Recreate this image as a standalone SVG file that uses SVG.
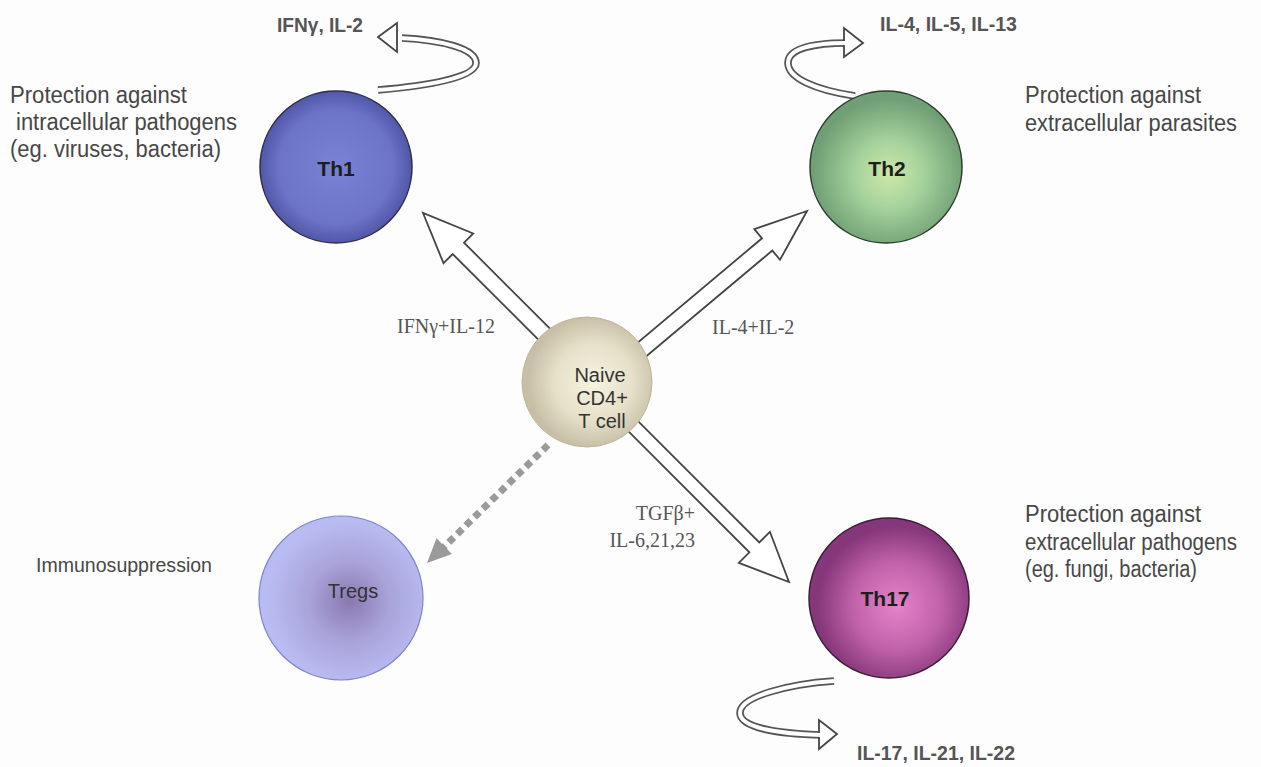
<svg xmlns="http://www.w3.org/2000/svg" width="1261" height="767" viewBox="0 0 1261 767">
  <defs>
    <radialGradient id="gTh1" cx="0.5" cy="0.5" r="0.5">
      <stop offset="0" stop-color="#7A82D4"/>
      <stop offset="0.75" stop-color="#6C74C8"/>
      <stop offset="1" stop-color="#5157A8"/>
    </radialGradient>
    <radialGradient id="gTh2" cx="0.52" cy="0.55" r="0.5">
      <stop offset="0" stop-color="#CDE8A8"/>
      <stop offset="0.45" stop-color="#A5D29C"/>
      <stop offset="1" stop-color="#6F9F74"/>
    </radialGradient>
    <radialGradient id="gNaive" cx="0.55" cy="0.5" r="0.5">
      <stop offset="0" stop-color="#F6F3DE"/>
      <stop offset="0.6" stop-color="#E6E0CA"/>
      <stop offset="1" stop-color="#C8C0A6"/>
    </radialGradient>
    <radialGradient id="gTregs" cx="0.55" cy="0.52" r="0.5">
      <stop offset="0" stop-color="#8A78B0"/>
      <stop offset="0.5" stop-color="#A9A4DA"/>
      <stop offset="1" stop-color="#B9BCF2"/>
    </radialGradient>
    <radialGradient id="gTh17" cx="0.55" cy="0.55" r="0.5">
      <stop offset="0" stop-color="#E683C9"/>
      <stop offset="0.55" stop-color="#C062AA"/>
      <stop offset="1" stop-color="#86367A"/>
    </radialGradient>
    <style>
      .sans { font-family: "Liberation Sans", Arial, sans-serif; }
      .serif { font-family: "Liberation Serif", "Times New Roman", serif; fill: #555; font-size: 20px; }
      .note { font-size: 23px; fill: #474747; }
      .cyt { font-size: 21px; font-weight: bold; fill: #555; }
      .cellB { font-size: 21px; font-weight: bold; fill: #1e1e1e; text-anchor: middle; }
      .cellN { font-size: 20px; fill: #333; text-anchor: middle; }
      .hollow { fill: #fff; stroke: #444; stroke-width: 1.8; stroke-linejoin: miter; }
      .bandOut { fill: none; stroke: #555; stroke-width: 7.5; }
      .bandIn { fill: none; stroke: #fff; stroke-width: 4; }
    </style>
  </defs>

  <rect width="1261" height="767" fill="#fdfdfd"/>

  <!-- connectors: differentiation arrows and cytokine loops -->
  <g id="connectors">
    <!-- naive -> Th1 -->
    <polygon class="hollow" transform="translate(423 213) rotate(225)" points="0,0 -50,-21 -50,-8 -215,-8 -215,8 -50,8 -50,21"/>
    <!-- naive -> Th2 -->
    <polygon class="hollow" transform="translate(807 211) rotate(-40)" points="0,0 -52,-20 -52,-8 -255,-8 -255,8 -52,8 -52,20"/>
    <!-- naive -> Th17 -->
    <polygon class="hollow" transform="translate(789 582) rotate(45)" points="0,0 -49,-22 -49,-7 -265,-7 -265,7 -49,7 -49,22"/>
    <!-- naive -> Tregs (dotted) -->
    <line x1="548" y1="445" x2="444" y2="547" stroke="#9a9a9a" stroke-width="7" stroke-dasharray="7 5"/>
    <polygon transform="translate(427 563) rotate(135.7)" points="0,0 -24,-11 -24,11" fill="#9a9a9a"/>

    <!-- Th1 loop: IFNγ, IL-2 -->
    <path class="bandOut" d="M 378 90 C 425 86, 476 78, 476 63 C 476 48, 440 40, 402 38"/>
    <polygon class="hollow" points="378,37 397,23 397,52"/>
    <path class="bandIn" d="M 378 90 C 425 86, 476 78, 476 63 C 476 48, 440 40, 400 38"/>

    <!-- Th2 loop: IL-4, IL-5, IL-13 -->
    <path class="bandOut" d="M 855 96 C 815 90, 788 78, 788 63 C 788 48, 815 43, 848 43"/>
    <polygon class="hollow" points="863,43 844,28 844,57"/>
    <path class="bandIn" d="M 855 96 C 815 90, 788 78, 788 63 C 788 48, 815 43, 846 43"/>

    <!-- Th17 loop: IL-17, IL-21, IL-22 -->
    <path class="bandOut" d="M 834 681 C 790 684, 740 696, 740 713 C 740 728, 780 734, 823 735"/>
    <polygon class="hollow" points="837,734 819,720 819,749"/>
    <path class="bandIn" d="M 834 681 C 790 684, 740 696, 740 713 C 740 728, 780 734, 821 735"/>
  </g>

  <!-- cells -->
  <g id="th1">
    <circle cx="336" cy="167" r="76" fill="url(#gTh1)" stroke="#2f2f45" stroke-width="1.5"/>
    <text class="sans cellB" x="336" y="176">Th1</text>
  </g>
  <g id="th2">
    <circle cx="886" cy="167" r="76" fill="url(#gTh2)" stroke="#2f3a30" stroke-width="1.5"/>
    <text class="sans cellB" x="887" y="176">Th2</text>
  </g>
  <g id="naive">
    <circle cx="587" cy="382" r="65" fill="url(#gNaive)" stroke="#bdb59a" stroke-width="1"/>
    <text class="sans cellN" x="600" y="382">Naive</text>
    <text class="sans cellN" x="602" y="405">CD4+</text>
    <text class="sans cellN" x="602" y="428">T cell</text>
  </g>
  <g id="tregs">
    <circle cx="341" cy="598" r="82" fill="url(#gTregs)" stroke="#7f84c8" stroke-width="1.2"/>
    <text class="sans cellN" x="353" y="598">Tregs</text>
  </g>
  <g id="th17">
    <circle cx="889" cy="598" r="80" fill="url(#gTh17)" stroke="#3a2035" stroke-width="1.5"/>
    <text class="sans cellB" x="885" y="606">Th17</text>
  </g>

  <!-- cytokine labels -->
  <g id="cytokines" class="sans">
    <text class="cyt" x="277" y="32" textLength="86" lengthAdjust="spacingAndGlyphs">IFNγ, IL-2</text>
    <text class="cyt" x="880" y="31" textLength="137" lengthAdjust="spacingAndGlyphs">IL-4, IL-5, IL-13</text>
    <text class="cyt" x="857" y="760" textLength="158" lengthAdjust="spacingAndGlyphs">IL-17, IL-21, IL-22</text>
  </g>
  <g id="inducers" class="serif">
    <text x="397" y="333">IFNγ+IL-12</text>
    <text x="712" y="334">IL-4+IL-2</text>
    <text x="695" y="520" text-anchor="end">TGFβ+</text>
    <text x="695" y="547" text-anchor="end">IL-6,21,23</text>
  </g>

  <!-- functions -->
  <g id="functions" class="sans">
    <text class="note" x="10" y="103" textLength="177" lengthAdjust="spacingAndGlyphs">Protection against</text>
    <text class="note" x="16" y="130" textLength="221" lengthAdjust="spacingAndGlyphs">intracellular pathogens</text>
    <text class="note" x="10" y="157" textLength="211" lengthAdjust="spacingAndGlyphs">(eg. viruses, bacteria)</text>

    <text class="note" x="1025" y="103" textLength="176" lengthAdjust="spacingAndGlyphs">Protection against</text>
    <text class="note" x="1025" y="131" textLength="212" lengthAdjust="spacingAndGlyphs">extracellular parasites</text>

    <text class="note" x="1025" y="522" textLength="176" lengthAdjust="spacingAndGlyphs">Protection against</text>
    <text class="note" x="1025" y="550" textLength="212" lengthAdjust="spacingAndGlyphs">extracellular pathogens</text>
    <text class="note" x="1025" y="577" textLength="172" lengthAdjust="spacingAndGlyphs">(eg. fungi, bacteria)</text>

    <text x="36" y="572" font-size="19.5" fill="#474747" textLength="176" lengthAdjust="spacingAndGlyphs">Immunosuppression</text>
  </g>
</svg>
